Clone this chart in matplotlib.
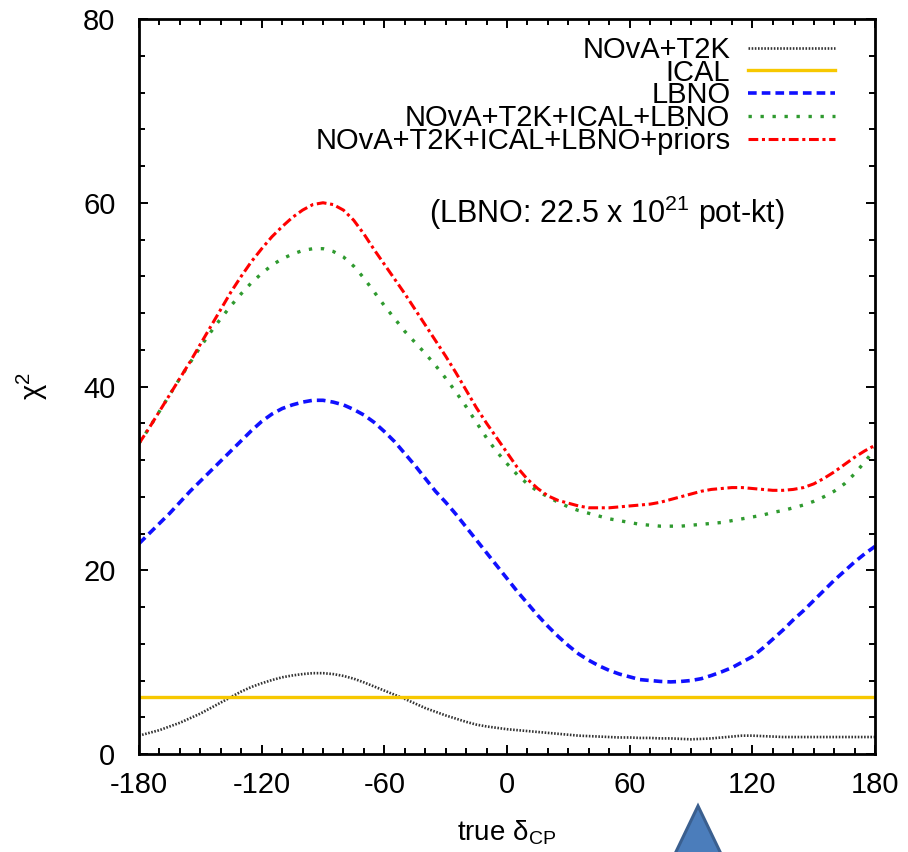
import numpy as np
import matplotlib
matplotlib.use("Agg")
import matplotlib.pyplot as plt
from matplotlib.patches import Polygon
from matplotlib.ticker import MultipleLocator

# true delta_CP grid (degrees), 5 degree steps
delta_cp = np.arange(-180, 181, 5)

nova_t2k = [2.0, 2.3, 2.6, 3.0, 3.4, 3.9, 4.4, 5.0, 5.6, 6.2, 6.8, 7.3, 7.7,
            8.05, 8.35, 8.55, 8.7, 8.8, 8.8, 8.7, 8.5, 8.2, 7.8, 7.35, 6.9,
            6.45, 6.0, 5.5, 5.0, 4.6, 4.2, 3.85, 3.5, 3.2, 3.0, 2.85, 2.7,
            2.6, 2.5, 2.4, 2.3, 2.2, 2.1, 2.0, 1.95, 1.9, 1.85, 1.8, 1.8,
            1.75, 1.75, 1.7, 1.7, 1.65, 1.6, 1.65, 1.7, 1.8, 1.9, 2.0, 2.0,
            1.95, 1.9, 1.85, 1.85, 1.85, 1.85, 1.85, 1.85, 1.85, 1.85, 1.85, 1.85]
ical = [6.25] * len(delta_cp)
lbno = [22.9, 24.0, 25.1, 26.2, 27.4, 28.6, 29.7, 30.8, 31.9, 33.0, 34.1, 35.2,
        36.2, 37.0, 37.6, 38.0, 38.3, 38.5, 38.5, 38.3, 38.0, 37.5, 36.9, 36.1,
        35.1, 34.0, 32.7, 31.4, 30.0, 28.6, 27.4, 26.1, 24.7, 23.3, 21.9, 20.5,
        19.1, 17.7, 16.4, 15.1, 13.9, 12.8, 11.8, 10.9, 10.2, 9.6, 9.1, 8.7,
        8.4, 8.1, 8.0, 7.9, 7.85, 7.9, 8.0, 8.2, 8.55, 8.95, 9.4, 10.0, 10.6,
        11.5, 12.5, 13.5, 14.6, 15.6, 16.7, 17.8, 18.9, 19.9, 20.9, 21.8, 22.6]
combined = [33.8, 35.5, 37.3, 39.1, 40.9, 42.6, 44.3, 45.9, 47.4, 48.8, 50.1,
            51.3, 52.3, 53.2, 53.9, 54.4, 54.8, 55.0, 55.0, 54.7, 54.1, 53.1,
            51.8, 50.3, 48.8, 47.4, 46.0, 44.8, 43.6, 42.3, 40.9, 39.4, 37.8,
            36.1, 34.4, 32.9, 31.6, 30.4, 29.4, 28.6, 28.0, 27.4, 26.9, 26.5,
            26.2, 25.9, 25.6, 25.4, 25.2, 25.0, 24.9, 24.8, 24.8, 24.8, 24.9,
            25.0, 25.1, 25.2, 25.4, 25.6, 25.8, 26.0, 26.3, 26.5, 26.8, 27.1,
            27.5, 28.0, 28.6, 29.4, 30.5, 31.8, 33.2]
combined_priors = [33.8, 35.5, 37.3, 39.1, 40.9, 42.7, 44.6, 46.5, 48.4, 50.3,
                   52.0, 53.6, 55.0, 56.3, 57.4, 58.4, 59.2, 59.8, 60.0, 59.8,
                   59.2, 58.1, 56.6, 54.9, 53.3, 51.7, 50.1, 48.4, 46.7, 45.0,
                   43.3, 41.5, 39.6, 37.7, 36.0, 34.4, 32.8, 31.2, 29.9, 28.9,
                   28.1, 27.6, 27.3, 27.0, 26.8, 26.8, 26.8, 26.9, 27.0, 27.1,
                   27.2, 27.4, 27.7, 28.0, 28.3, 28.6, 28.8, 28.9, 29.0, 29.0,
                   28.9, 28.8, 28.7, 28.7, 28.8, 29.0, 29.4, 30.0, 30.7, 31.5,
                   32.3, 33.0, 33.6]

x_ticks = [-180, -120, -60, 0, 60, 120, 180]
y_ticks = [0, 20, 40, 60, 80]

plt.rcParams.update({
    "font.family": ["Liberation Sans", "DejaVu Sans"],
    "mathtext.fontset": "custom",
    "mathtext.rm": "Liberation Sans",
    "mathtext.it": "Liberation Sans:italic",
    "axes.unicode_minus": False,
})

fig = plt.figure(figsize=(9.08, 8.52), dpi=100)
ax = fig.add_axes([0.1531, 0.115, 0.8106, 0.8627])

ax.plot(delta_cp, nova_t2k, color="#333333", lw=1.9, ls=(0, (0.6, 0.6)), label="NOvA+T2K")
ax.plot(delta_cp, ical, color="#f7c800", lw=2.4, ls="-", label="ICAL")
ax.plot(delta_cp, lbno, color="#1010ff", lw=2.6, ls=(0, (2.4, 1.4)), label="LBNO")
ax.plot(delta_cp, combined, color="#2f9a2f", lw=2.4, ls=(0, (1, 2.6)),
        label="NOvA+T2K+ICAL+LBNO")
ax.plot(delta_cp, combined_priors, color="#ff0000", lw=2.2, ls=(0, (3.2, 1.2, 1, 1.2)),
        label="NOvA+T2K+ICAL+LBNO+priors")

ax.set_xlim(-180, 180)
ax.set_ylim(0, 80)
ax.set_xticks(x_ticks)
ax.set_yticks(y_ticks)
ax.xaxis.set_minor_locator(MultipleLocator(10))
ax.yaxis.set_minor_locator(MultipleLocator(4))
ax.tick_params(which="both", direction="in", top=True, right=True, width=1.4)
ax.tick_params(which="major", length=6.5, labelsize=21)
ax.tick_params(which="minor", length=4)
ax.tick_params(axis="x", pad=12)
ax.tick_params(axis="y", pad=17)
for spine in ax.spines.values():
    spine.set_linewidth(2.0)

ax.set_xlabel("true δ$_{\\rm CP}$", fontsize=20, labelpad=14)
ax.set_ylabel("χ$^{2}$", fontsize=21, labelpad=24)

leg = ax.legend(loc="upper right", bbox_to_anchor=(0.946, 0.977), frameon=False,
                markerfirst=False, fontsize=21, labelspacing=-0.18,
                handlelength=3.0, handletextpad=0.6, borderpad=0, borderaxespad=0)

ax.text(49, 58.9, r"(LBNO: 22.5 x 10$^{21}$ pot-kt)", fontsize=22,
        ha="center", va="center")

# blue pointer triangle below the axis
tri = Polygon([(698 / 908, 1 - 806 / 852), (673 / 908, 1 - 858 / 852),
               (723 / 908, 1 - 858 / 852)], closed=True, transform=fig.transFigure,
              facecolor="#4b7dbb", edgecolor="#3a5f8f", lw=2.2, clip_on=False)
fig.patches.append(tri)

fig.savefig("out.png", dpi=100)
